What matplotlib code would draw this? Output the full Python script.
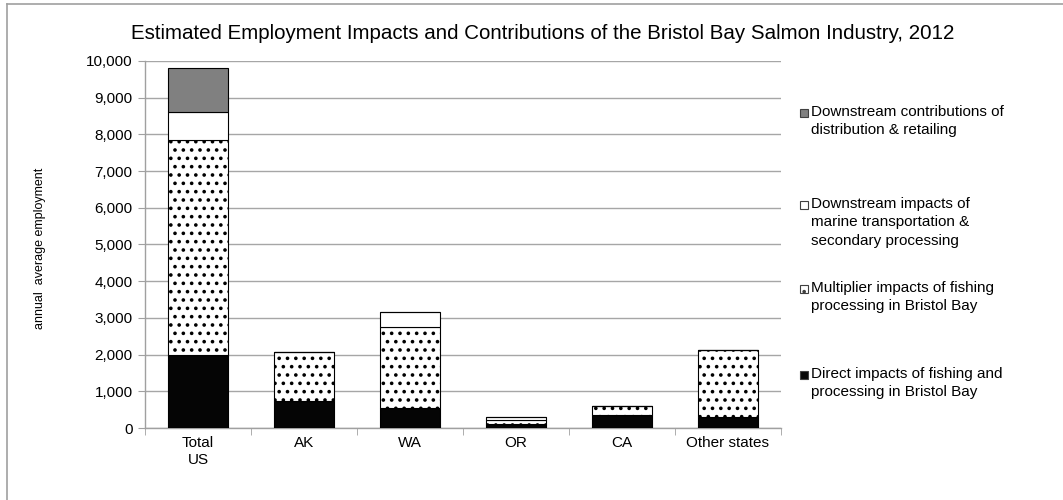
import matplotlib
matplotlib.use("Agg")
import matplotlib.pyplot as plt
import numpy as np
from matplotlib.patches import Rectangle
from matplotlib.lines import Line2D

plt.rcParams['font.family'] = ['Liberation Sans', 'DejaVu Sans']
plt.rcParams['hatch.linewidth'] = 1.4

# ── data ─────────────────────────────────────
categories = ["Total\nUS", "AK", "WA", "OR", "CA", "Other states"]
direct       = [2000, 740, 540, 100, 350, 290]
multiplier   = [5850, 1320, 2220, 130, 240, 1840]
transport    = [760, 0, 390, 60, 0, 0]
distribution = [1210, 0, 0, 0, 0, 0]

series_labels = [
    "Direct impacts of fishing and\nprocessing in Bristol Bay",
    "Multiplier impacts of fishing\nprocessing in Bristol Bay",
    "Downstream impacts of\nmarine transportation &\nsecondary processing",
    "Downstream contributions of\ndistribution & retailing",
]

# ── figure ───────────────────────────────────
fig = plt.figure(figsize=(10.63, 5.0), dpi=100)
ax = fig.add_axes([145/1063, 72/500, 636/1063, 367/500])

x = np.arange(len(categories))
w = 0.56
ec = "black"
ax.bar(x, direct, w, color="#050505", edgecolor=ec, linewidth=0.8, zorder=3)
bottom = np.array(direct)
ax.bar(x, multiplier, w, bottom=bottom, color="white", edgecolor=ec,
       hatch="..", linewidth=0.8, zorder=3)
bottom = bottom + np.array(multiplier)
ax.bar(x, transport, w, bottom=bottom, color="white", edgecolor=ec,
       linewidth=0.8, zorder=3)
bottom = bottom + np.array(transport)
ax.bar(x, distribution, w, bottom=bottom, color="#808080", edgecolor=ec,
       linewidth=0.8, zorder=3)

ax.set_xlim(-0.5, len(categories) - 0.5)
ax.set_ylim(0, 10000)
ax.set_yticks(np.arange(0, 10001, 1000))
ax.set_yticklabels([f"{v:,}" for v in range(0, 10001, 1000)], fontsize=11)
ax.set_xticks(x)
ax.set_xticklabels(categories, fontsize=11)
ax.set_xticks(np.arange(-0.5, len(categories)), minor=True)
ax.tick_params(axis="x", which="major", length=0, pad=6)
ax.tick_params(axis="x", which="minor", length=5, color="#a0a0a0", direction="out")
ax.tick_params(axis="y", length=5, color="#a0a0a0", direction="out", pad=4)
ax.grid(axis="y", color="#a6a6a6", linewidth=1.0, zorder=0)
ax.set_axisbelow(True)
for s in ["top", "right"]:
    ax.spines[s].set_visible(False)
for s in ["left", "bottom"]:
    ax.spines[s].set_color("#a0a0a0")
    ax.spines[s].set_linewidth(1.0)

fig.text(40/1063, 1 - 248/500, "annual  average employment", rotation=90,
         fontsize=9, ha="center", va="center")
fig.text(543/1063, 1 - 33/500,
         "Estimated Employment Impacts and Contributions of the Bristol Bay Salmon Industry, 2012",
         fontsize=14.8, ha="center", va="center")

# ── legend (marker aligned with first text line, as in the original) ─
leg_colors = ["#050505", "white", "white", "#808080"]
leg_hatch = [None, "..", None, None]
leg_y = [375, 289, 205, 113]   # pixel y of centre of first line
for lab, col, h, yy in zip(series_labels, leg_colors, leg_hatch, leg_y):
    fig.patches.append(Rectangle((800/1063, 1 - (yy + 4)/500), 8/1063, 8/500,
                                 facecolor=col, edgecolor="#404040", hatch=h,
                                 linewidth=0.8, transform=fig.transFigure, figure=fig))
    fig.text(811/1063, 1 - (yy - 8)/500, lab, fontsize=11, ha="left", va="top",
             linespacing=1.4)

# outer chart frame
fig.add_artist(Line2D([7/1063, 7/1063], [0, 1 - 4/500], color="#a0a0a0",
                      linewidth=1.2, transform=fig.transFigure))
fig.add_artist(Line2D([7/1063, 1], [1 - 4/500, 1 - 4/500], color="#a0a0a0",
                      linewidth=1.2, transform=fig.transFigure))

fig.savefig("out.png", dpi=100)
